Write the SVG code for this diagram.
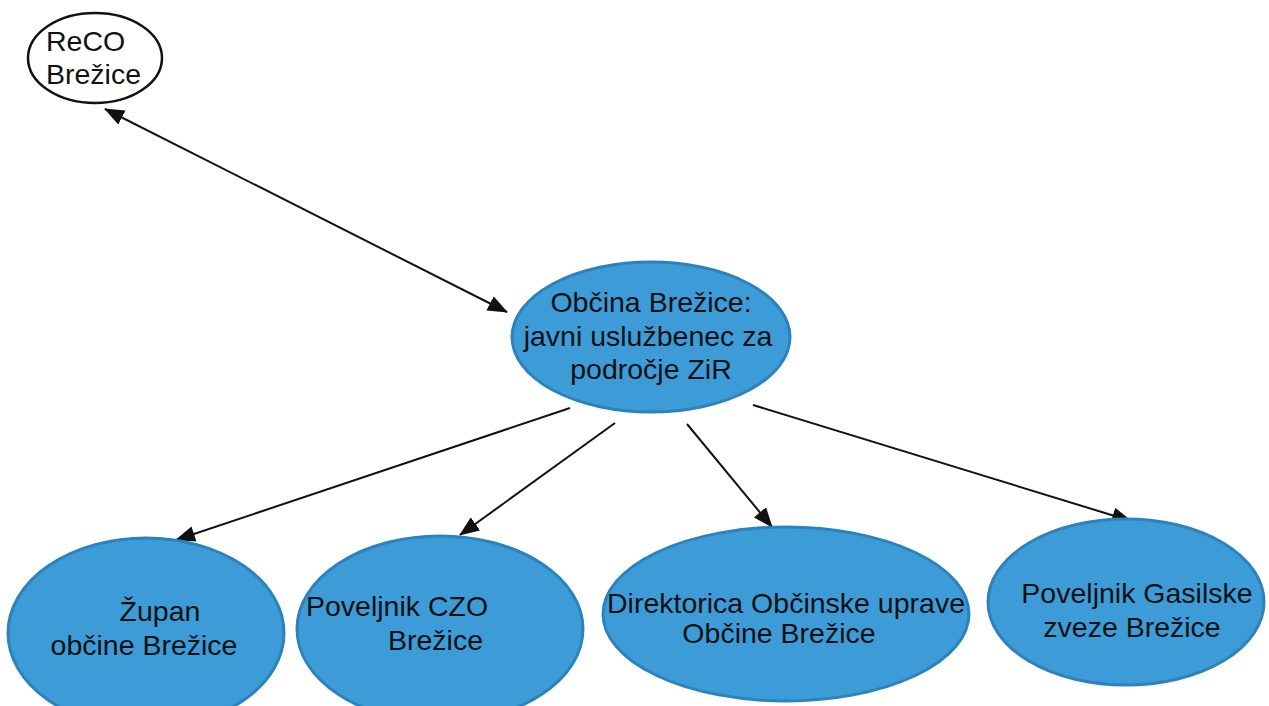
<svg xmlns="http://www.w3.org/2000/svg" width="1269" height="706" viewBox="0 0 1269 706">
<defs>
<style>
.blue{fill:#3d9bd8;stroke:#2c82bd;stroke-width:3}
.white{fill:#ffffff;stroke:#111;stroke-width:2.5}
.t{font-family:"Liberation Sans",Arial,sans-serif;font-size:28.5px;fill:#111}
.c{stroke:#111;stroke-width:2;fill:none}
</style>
<marker id="a" viewBox="0 0 20 16" refX="19" refY="8" markerWidth="20" markerHeight="16" markerUnits="userSpaceOnUse" orient="auto-start-reverse">
<path d="M0,0 L20,8 L0,16 z" fill="#111"/>
</marker>
</defs>
<rect width="1269" height="706" fill="#ffffff"/>
<g id="connectors">
<line class="c" x1="105" y1="109" x2="507" y2="312" marker-start="url(#a)" marker-end="url(#a)"/>
<line class="c" x1="570" y1="408" x2="176" y2="540" marker-end="url(#a)"/>
<line class="c" x1="615" y1="423" x2="460" y2="535" marker-end="url(#a)"/>
<line class="c" x1="687" y1="424" x2="772" y2="527" marker-end="url(#a)"/>
<line class="c" x1="753" y1="405" x2="1131" y2="521" marker-end="url(#a)"/>
</g>
<g id="reco">
<ellipse class="white" cx="95" cy="58" rx="67" ry="45"/>
<text class="t" x="46" y="51">ReCO</text>
<text class="t" x="46" y="84">Brežice</text>
</g>
<g id="obcina">
<ellipse class="blue" cx="651" cy="337" rx="139" ry="75"/>
<text class="t" text-anchor="middle" x="651" y="312">Občina Brežice:</text>
<text class="t" text-anchor="middle" x="648" y="346">javni uslužbenec za</text>
<text class="t" text-anchor="middle" x="651" y="379">področje ZiR</text>
</g>
<g id="zupan">
<ellipse class="blue" cx="146" cy="633" rx="138" ry="95"/>
<text class="t" text-anchor="middle" x="160" y="621">Župan</text>
<text class="t" text-anchor="middle" x="144" y="655">občine Brežice</text>
</g>
<g id="czo">
<ellipse class="blue" cx="440" cy="629" rx="143" ry="93"/>
<text class="t" x="306" y="616">Poveljnik CZO</text>
<text class="t" x="388" y="650">Brežice</text>
</g>
<g id="direktorica">
<ellipse class="blue" cx="786" cy="614" rx="183" ry="87"/>
<text class="t" text-anchor="middle" x="786" y="613">Direktorica Občinske uprave</text>
<text class="t" text-anchor="middle" x="779" y="643">Občine Brežice</text>
</g>
<g id="gasilska">
<ellipse class="blue" cx="1126" cy="602" rx="138" ry="83"/>
<text class="t" text-anchor="middle" x="1137" y="603">Poveljnik Gasilske</text>
<text class="t" text-anchor="middle" x="1132" y="637">zveze Brežice</text>
</g>
</svg>
